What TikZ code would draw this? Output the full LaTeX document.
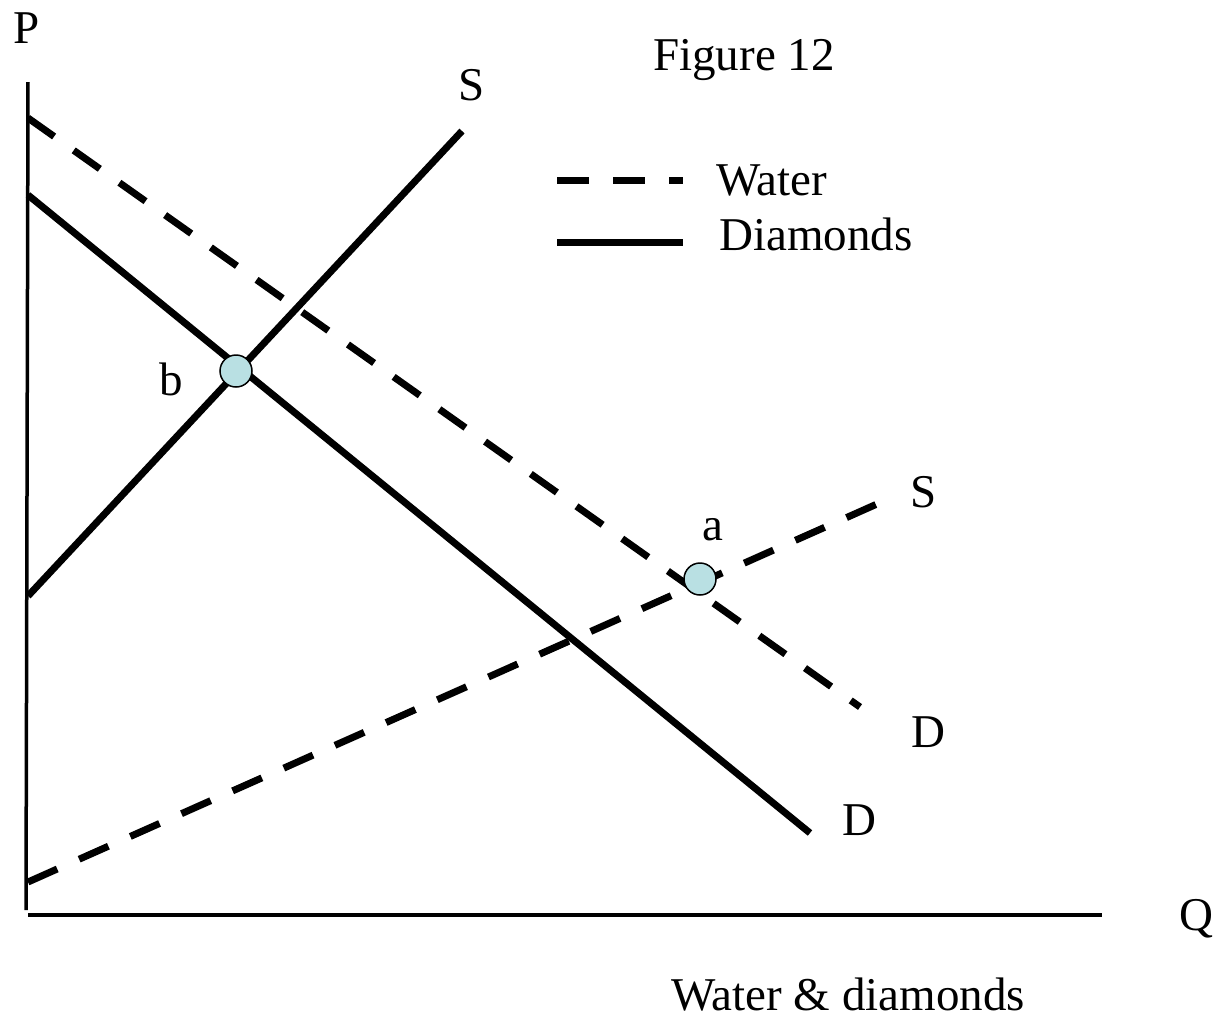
\documentclass[tikz,border=0pt]{standalone}
\usepackage{fontspec}
\setmainfont{Liberation Serif}
\begin{document}
\begin{tikzpicture}[x=1pt,y=-1pt,
  lbl/.style={font=\fontsize{47}{56}\selectfont, inner sep=0pt, anchor=base},
  curve/.style={line width=7pt},
  waterdash/.style={curve, dash pattern=on 32pt off 24pt},
  axis/.style={line width=3.5pt},
  eqpt/.style={circle, draw=black, line width=1.5pt, fill=eqfill, minimum size=32pt, inner sep=0pt}]
\definecolor{eqfill}{RGB}{185,224,227}
\useasboundingbox (0,0) rectangle (1226,1021);
% axes
\coordinate (ytop) at (28,82);
\coordinate (ybot) at (26,910);
\coordinate (xl) at (28,915);
\coordinate (xr) at (1102,915);
\draw[axis] (ytop) -- (ybot);
\draw[axis] (xl) -- (xr);
% curve end points
\coordinate (dsA) at (28,596);
\coordinate (dsB) at (462,131);
\coordinate (ddA) at (28,195);
\coordinate (ddB) at (810,833);
\coordinate (wdA) at (28,118);
\coordinate (wdB) at (860,707);
\coordinate (wsA) at (28,882);
\coordinate (wsB) at (877,504);
\draw[curve] (dsA) -- (dsB);
\draw[curve] (ddA) -- (ddB);
\draw[waterdash] (wdA) -- (wdB);
\draw[waterdash] (wsA) -- (wsB);
% equilibrium points
\node[eqpt] (b) at (236,371) {};
\node[eqpt] (a) at (700,579) {};
% legend
\coordinate (l1A) at (557,180);
\coordinate (l1B) at (683,180);
\coordinate (l2A) at (557,242);
\coordinate (l2B) at (683,242);
\draw[waterdash] (l1A) -- (l1B);
\draw[curve] (l2A) -- (l2B);
\node[lbl, anchor=base west] (water) at (716,195) {Water};
\node[lbl, anchor=base west] (diam) at (719,250) {Diamonds};
% labels
\node[lbl] (P) at (27,43) {P};
\node[lbl] (fig) at (744,70) {Figure 12};
\node[lbl] (S1) at (472,100) {S};
\node[lbl] (blbl) at (171,395) {b};
\node[lbl] (albl) at (713,540) {a};
\node[lbl] (S2) at (924,507) {S};
\node[lbl] (D1) at (928,747) {D};
\node[lbl] (D2) at (859,835) {D};
\node[lbl] (Q) at (1196,930) {Q};
\node[lbl] (xlab) at (848,1010) {Water \& diamonds};
\end{tikzpicture}
\end{document}
